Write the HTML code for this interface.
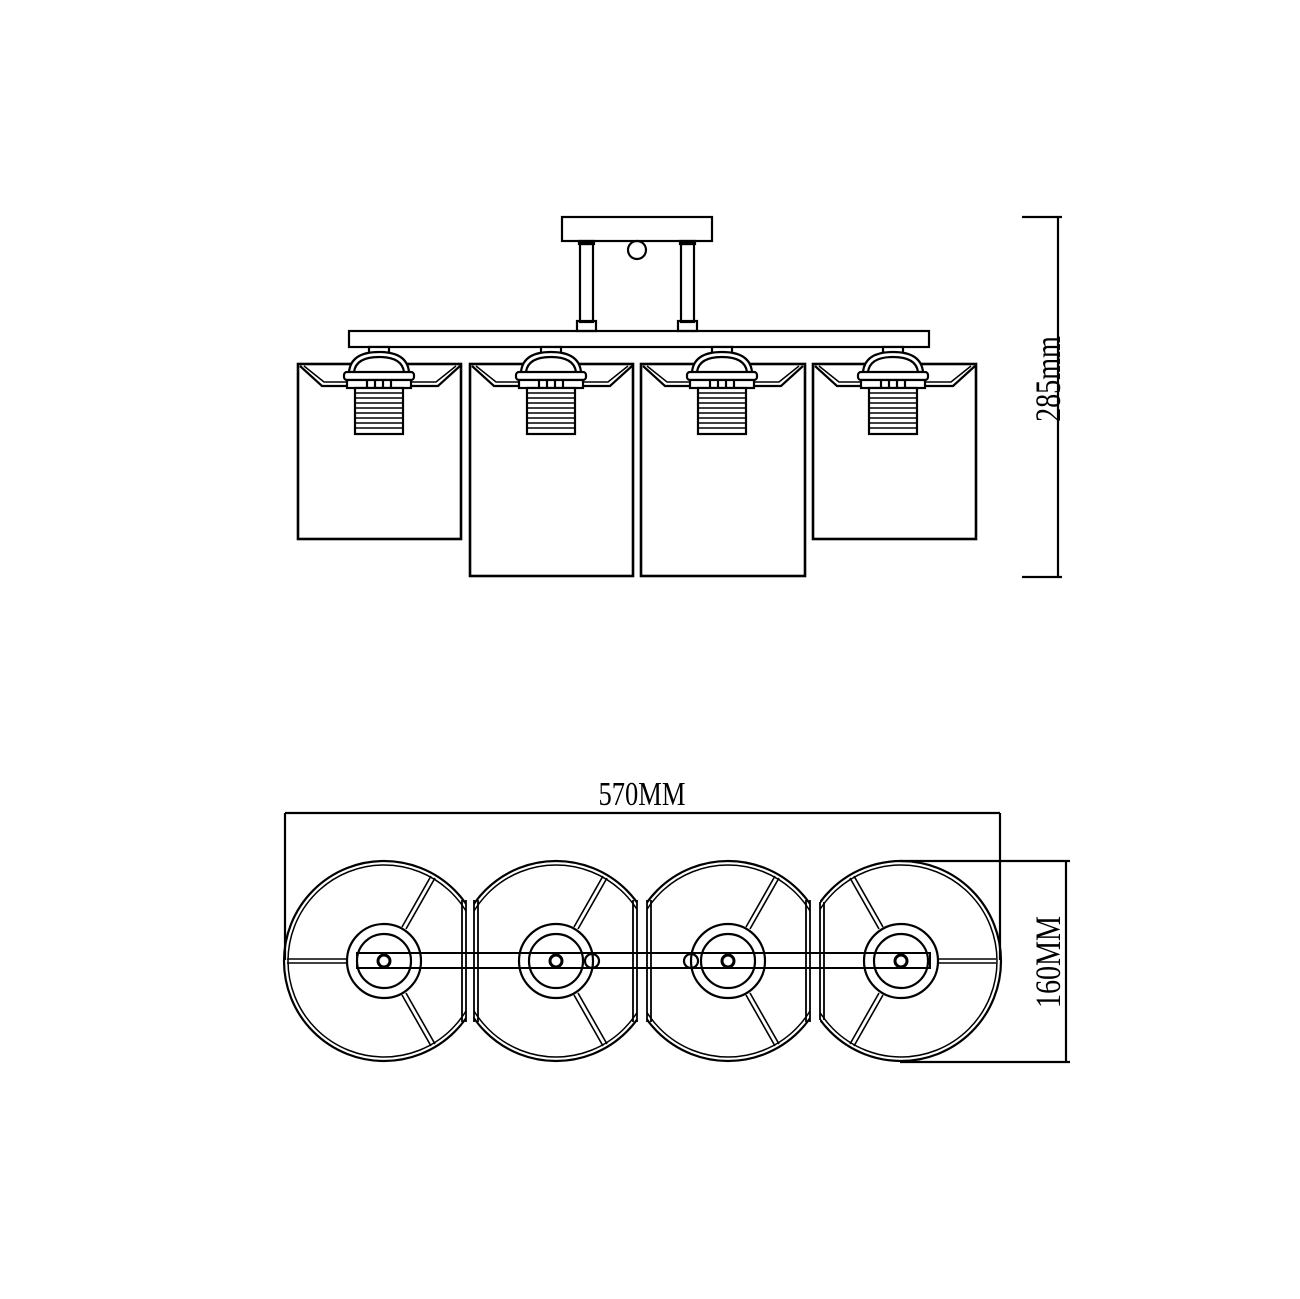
<!DOCTYPE html>
<html><head><style>html,body{margin:0;padding:0;background:#fff}svg{display:block}</style></head>
<body>
<svg width="1300" height="1299" viewBox="0 0 1300 1299" xmlns="http://www.w3.org/2000/svg" fill="none" stroke="#000" stroke-width="2.2">
<defs>
<g id="sock">
  <rect x="-10" y="347" width="20" height="10" fill="#fff"/>
  <path d="M-30 372 Q-28 352 0 352 Q28 352 30 372" fill="#fff"/>
  <path d="M-25 372 Q-23 357 0 357 Q23 357 25 372"/>
  <rect x="-35" y="372" width="70" height="8" rx="3" fill="#fff"/>
  <rect x="-32" y="380" width="64" height="8" fill="#fff"/>
  <line x1="-12" y1="380" x2="-12" y2="388"/><line x1="-4" y1="380" x2="-4" y2="388"/><line x1="4" y1="380" x2="4" y2="388"/><line x1="12" y1="380" x2="12" y2="388"/>
  <rect x="-24" y="388" width="48" height="46" fill="#fff"/>
  <path d="M-24 393H24M-24 398H24M-24 403H24M-24 408H24M-24 413H24M-24 418H24M-24 423H24M-24 428H24" stroke-width="1.6"/>
</g>
<clipPath id="c1"><rect x="0" y="0" width="466" height="1299"/></clipPath>
<clipPath id="c2"><rect x="474" y="0" width="163" height="1299"/></clipPath>
<clipPath id="c3"><rect x="647" y="0" width="163" height="1299"/></clipPath>
<clipPath id="c4"><rect x="820" y="0" width="400" height="1299"/></clipPath>
</defs>

<rect x="562" y="217" width="150" height="24"/>
<circle cx="637" cy="250" r="9"/>
<rect x="580" y="244" width="13" height="78"/>
<rect x="579" y="241" width="15" height="3" fill="#000"/>
<rect x="577" y="321" width="19" height="10"/>
<rect x="681" y="244" width="13" height="78"/>
<rect x="680" y="241" width="15" height="3" fill="#000"/>
<rect x="678" y="321" width="19" height="10"/>
<rect x="349" y="331" width="580" height="16"/>

<g stroke-width="2.6">
<rect x="298" y="364" width="163" height="175"/>
<rect x="470" y="364" width="163" height="212"/>
<rect x="641" y="364" width="164" height="212"/>
<rect x="813" y="364" width="163" height="175"/>
</g>
<path d="M300 366 L322 386 L438 386 L460 366" /><path d="M304 366 L324 382 L436 382 L456 366" stroke-width="1.5"/>
<path d="M472 366 L494 386 L610 386 L632 366" /><path d="M476 366 L496 382 L608 382 L628 366" stroke-width="1.5"/>
<path d="M643 366 L665 386 L781 386 L803 366" /><path d="M647 366 L667 382 L779 382 L799 366" stroke-width="1.5"/>
<path d="M815 366 L837 386 L953 386 L975 366" /><path d="M819 366 L839 382 L951 382 L971 366" stroke-width="1.5"/>
<use href="#sock" x="379"/><use href="#sock" x="551"/><use href="#sock" x="722"/><use href="#sock" x="893"/>

<line x1="1058" y1="217" x2="1058" y2="577"/>
<line x1="1022" y1="217" x2="1062" y2="217"/>
<line x1="1022" y1="577" x2="1062" y2="577"/>
<text x="0" y="0" transform="translate(1060,379) rotate(-90) scale(0.78,1)" font-family="Liberation Serif, serif" font-size="36" fill="#000" stroke="none" text-anchor="middle">285mm</text>

<line x1="285" y1="813" x2="1000" y2="813"/>
<line x1="285" y1="813" x2="285" y2="960"/>
<line x1="1000" y1="813" x2="1000" y2="960"/>
<text x="0" y="0" transform="translate(642,805) scale(0.78,1)" font-family="Liberation Serif, serif" font-size="34" fill="#000" stroke="none" text-anchor="middle">570MM</text>
<line x1="1066" y1="862" x2="1066" y2="1062"/>
<line x1="900" y1="861" x2="1070" y2="861"/>
<line x1="900" y1="1062" x2="1070" y2="1062"/>
<text x="0" y="0" transform="translate(1060,962) rotate(-90) scale(0.78,1)" font-family="Liberation Serif, serif" font-size="36" fill="#000" stroke="none" text-anchor="middle">160MM</text>

<g clip-path="url(#c1)"><circle cx="384" cy="961" r="100"/><circle cx="384" cy="961" r="96" stroke-width="1.5"/></g>
<path d="M466 900V1022M462 900V1022" stroke-width="1.8"/>
<g clip-path="url(#c2)"><circle cx="556" cy="961" r="100"/><circle cx="556" cy="961" r="96" stroke-width="1.5"/></g>
<path d="M474 900V1022M478 900V1022M637 900V1022M633 900V1022" stroke-width="1.8"/>
<g clip-path="url(#c3)"><circle cx="728" cy="961" r="100"/><circle cx="728" cy="961" r="96" stroke-width="1.5"/></g>
<path d="M647 900V1022M651 900V1022M810 900V1022M806 900V1022" stroke-width="1.8"/>
<g clip-path="url(#c4)"><circle cx="901" cy="961" r="100"/><circle cx="901" cy="961" r="96" stroke-width="1.5"/></g>
<path d="M820 902V1020M824 902V1020" stroke-width="1.8"/>

<g stroke-width="1.6">
<path d="M287 959H348M287 963H348"/>
<path d="M402 927L431 876M406 929L435 878M402 995L431 1046M406 993L435 1044"/>
<path d="M574 927L603 876M578 929L607 878M574 995L603 1046M578 993L607 1044"/>
<path d="M746 927L775 876M750 929L779 878M746 995L775 1046M750 993L779 1044"/>
<path d="M883 927L854 876M879 929L850 878M883 995L854 1046M879 993L850 1044"/>
<path d="M938 959H996M938 963H996"/>
</g>
<rect x="357" y="953" width="573" height="15" stroke-width="2"/>
<g fill="none">
<circle cx="384" cy="961" r="37"/><circle cx="384" cy="961" r="27"/><circle cx="384" cy="961" r="6" stroke-width="3"/>
<circle cx="556" cy="961" r="37"/><circle cx="556" cy="961" r="27"/><circle cx="556" cy="961" r="6" stroke-width="3"/>
<circle cx="728" cy="961" r="37"/><circle cx="728" cy="961" r="27"/><circle cx="728" cy="961" r="6" stroke-width="3"/>
<circle cx="901" cy="961" r="37"/><circle cx="901" cy="961" r="27"/><circle cx="901" cy="961" r="6" stroke-width="3"/>
<circle cx="592" cy="961" r="7"/><circle cx="691" cy="961" r="7"/>
</g>
</svg>
</body></html>
